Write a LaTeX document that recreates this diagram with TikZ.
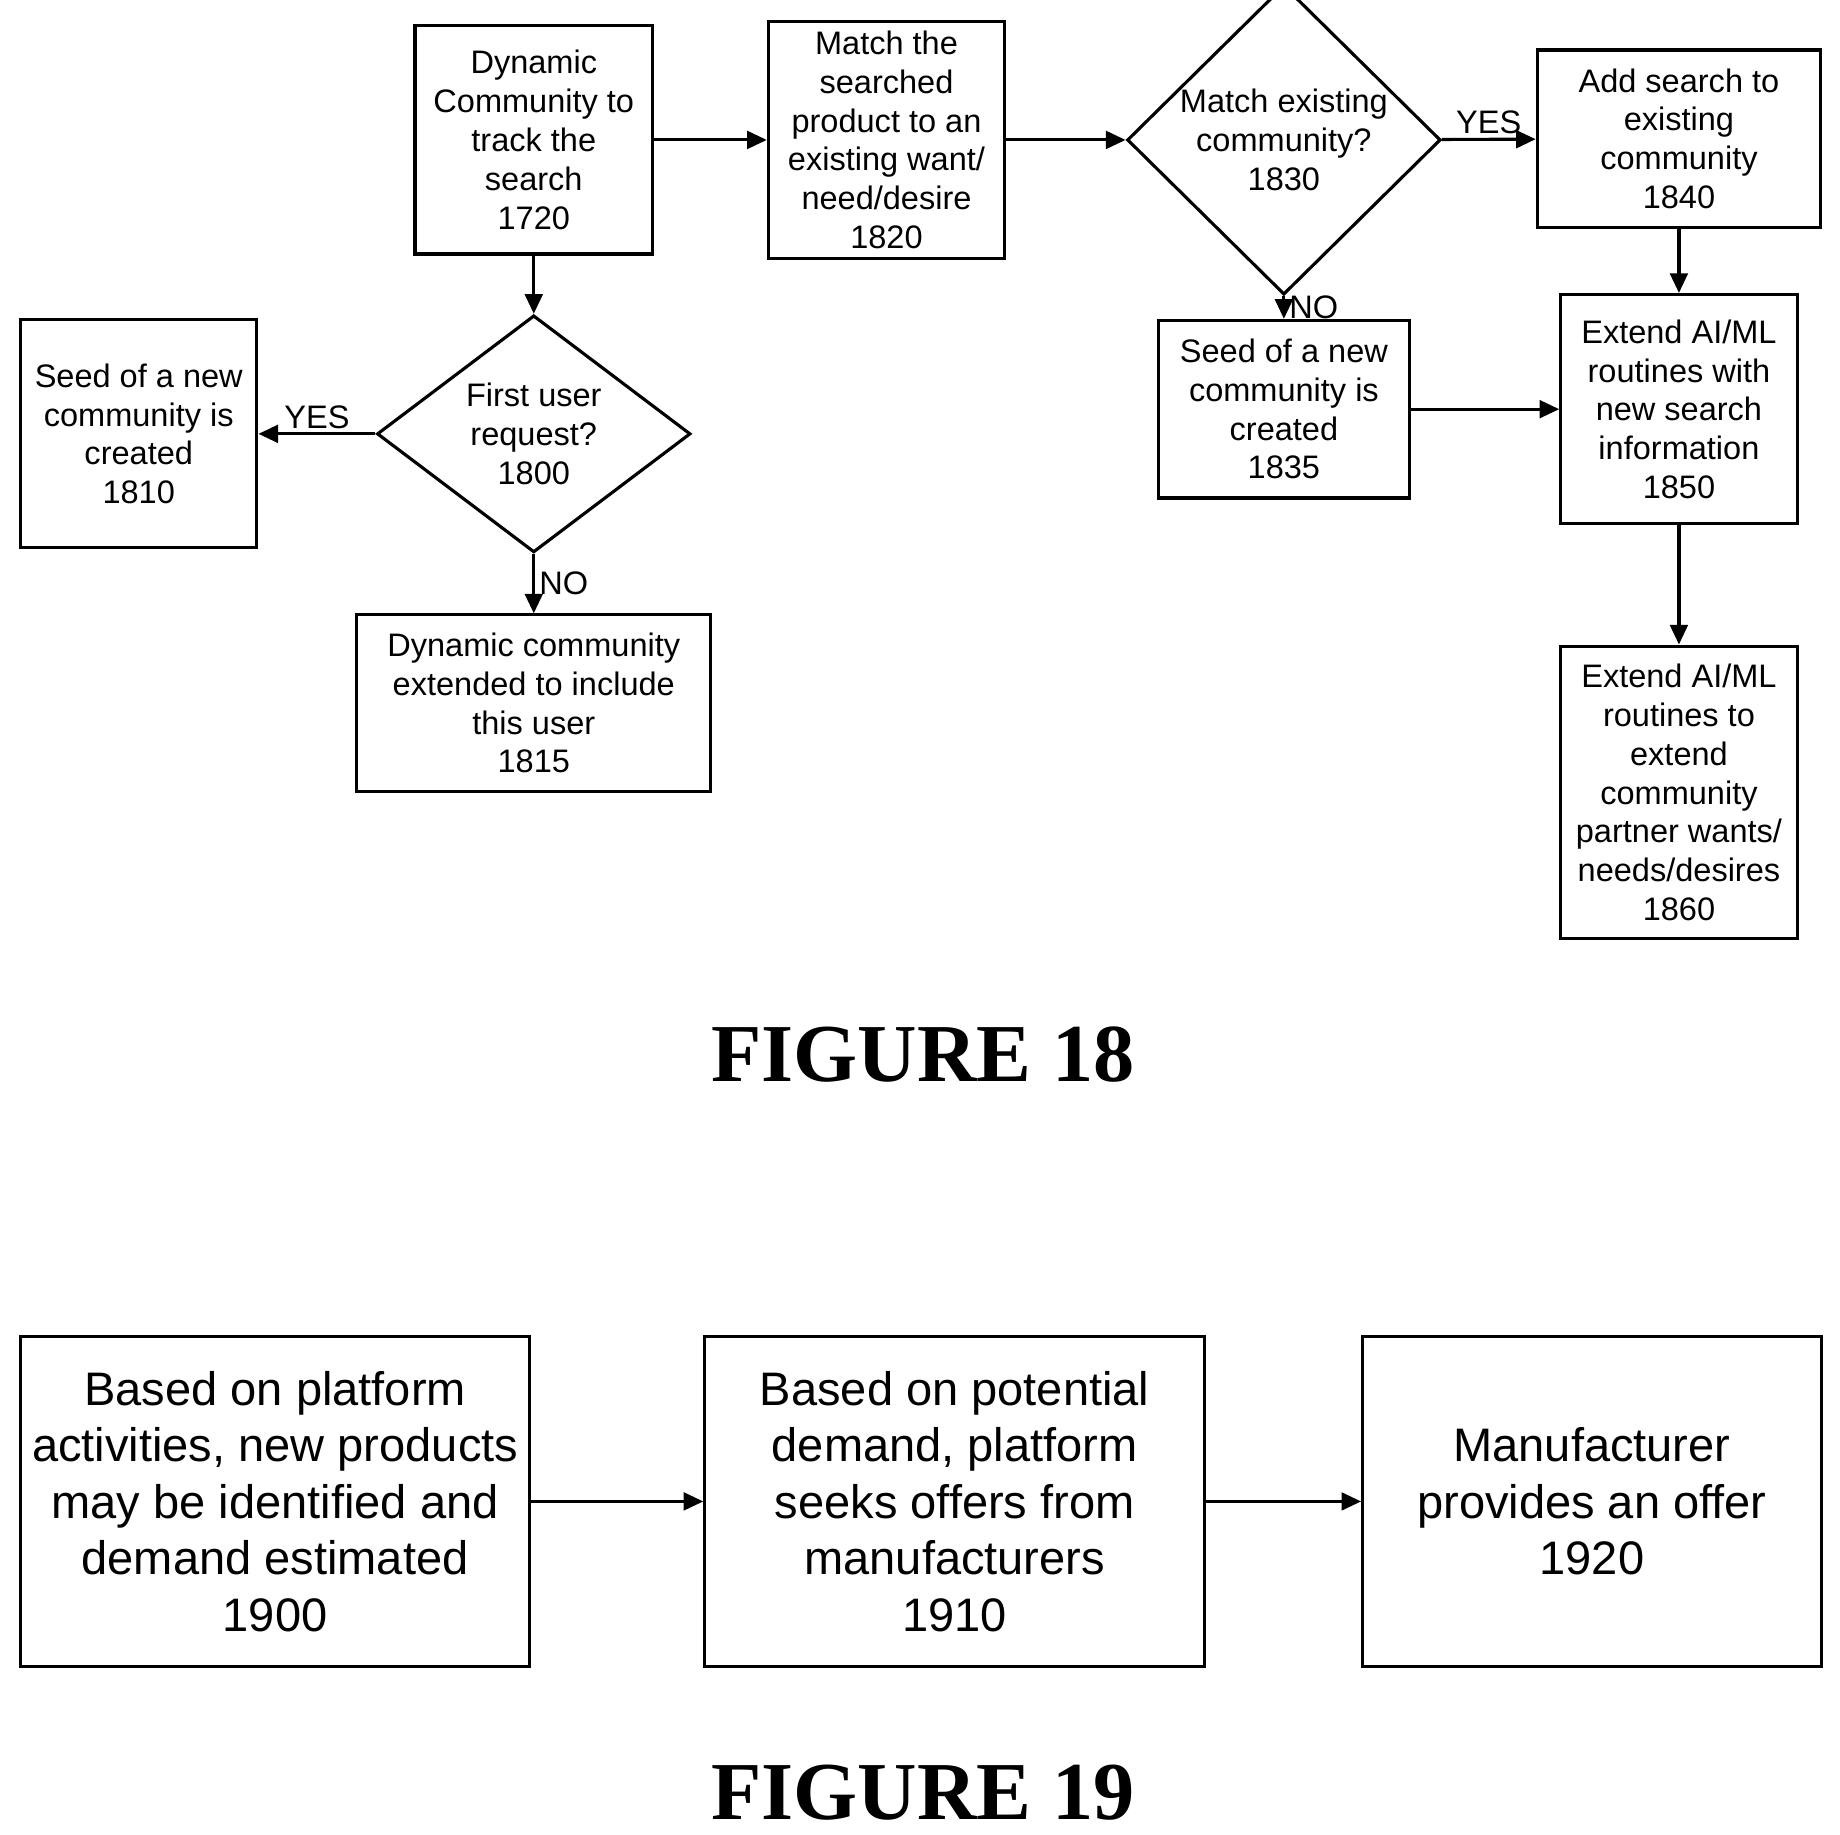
\documentclass[tikz,border=0pt]{standalone}
\usepackage{fontspec}
\setmainfont{Liberation Sans}
\newfontfamily\capfont{Liberation Serif}
\usetikzlibrary{arrows.meta,shapes.geometric}
\begin{document}
\begin{tikzpicture}[x=0.3pt,y=-0.3pt,->,>={Triangle[length=5pt,width=4.5pt]},
      line width=0.8pt,
      box/.style={draw,rectangle,align=center,inner sep=0pt,font=\fontsize{8.3}{9.9}\selectfont},
      dec/.style={draw,diamond,align=center,inner sep=0pt,minimum width=80pt,minimum height=60pt,font=\fontsize{8.3}{9.9}\selectfont},
      big/.style={draw,rectangle,align=center,inner sep=0pt,minimum height=84.3pt,font=\fontsize{12}{14.4}\selectfont},
      lab/.style={font=\fontsize{8.3}{9.9}\selectfont,inner sep=1pt}]
    \useasboundingbox (0,0) rectangle (1565,1560);
    \node[box,minimum width=60.6pt,minimum height=58.2pt] (b1720) at (454,119) {Dynamic\\Community to\\track the\\search\\1720};
    \node[box,minimum width=60.3pt,minimum height=60.6pt] (b1820) at (754,119) {Match the\\searched\\product to an\\existing want/\\need/desire\\1820};
    \node[dec] (d1830) at (1092,119) {Match existing\\community?\\1830};
    \node[box,minimum width=72.3pt,minimum height=45.3pt] (b1840) at (1428,118) {Add search to\\existing\\community\\1840};
    \node[dec] (d1800) at (454,369) {First user\\request?\\1800};
    \node[box,minimum width=60.3pt,minimum height=58.2pt] (b1810) at (118,369) {Seed of a new\\community is\\created\\1810};
    \node[box,minimum width=90.3pt,minimum height=45pt] (b1815) at (454,598) {Dynamic community\\extended to include\\this user\\1815};
    \node[box,minimum width=63.9pt,minimum height=45.3pt] (b1835) at (1092,348) {Seed of a new\\community is\\created\\1835};
    \node[box,minimum width=60.3pt,minimum height=58.5pt] (b1850) at (1428,348) {Extend AI/ML\\routines with\\new search\\information\\1850};
    \node[box,minimum width=60.3pt,minimum height=74.7pt] (b1860) at (1428,674) {Extend AI/ML\\routines to\\extend\\community\\partner wants/\\needs/desires\\1860};
    \node[font=\capfont\bfseries\fontsize{21}{24}\selectfont] (fig18) at (785,897) {FIGURE 18};
    \node[big,minimum width=130pt] (b1900) at (234,1277) {Based on platform\\activities, new products\\may be identified and\\demand estimated\\1900};
    \node[big,minimum width=127.5pt] (b1910) at (812,1277) {Based on potential\\demand, platform\\seeks offers from\\manufacturers\\1910};
    \node[big,minimum width=117pt] (b1920) at (1354,1277) {Manufacturer\\provides an offer\\1920};
    \node[font=\capfont\bfseries\fontsize{21}{24}\selectfont] (fig19) at (785,1525) {FIGURE 19};
    \draw (b1720) -- (b1820);
    \draw (b1820) -- (d1830);
    \draw (d1830) -- node[lab,above] {YES} (b1840);
    \draw (d1830) -- node[lab,right] {NO} (b1835);
    \draw (b1840) -- (b1850);
    \draw (b1835) -- (b1850);
    \draw (b1850) -- (b1860);
    \draw (b1720) -- (d1800);
    \draw (d1800) -- node[lab,above] {YES} (b1810);
    \draw (d1800) -- node[lab,right] {NO} (b1815);
    \draw (b1900) -- (b1910);
    \draw (b1910) -- (b1920);
\end{tikzpicture}
\end{document}
